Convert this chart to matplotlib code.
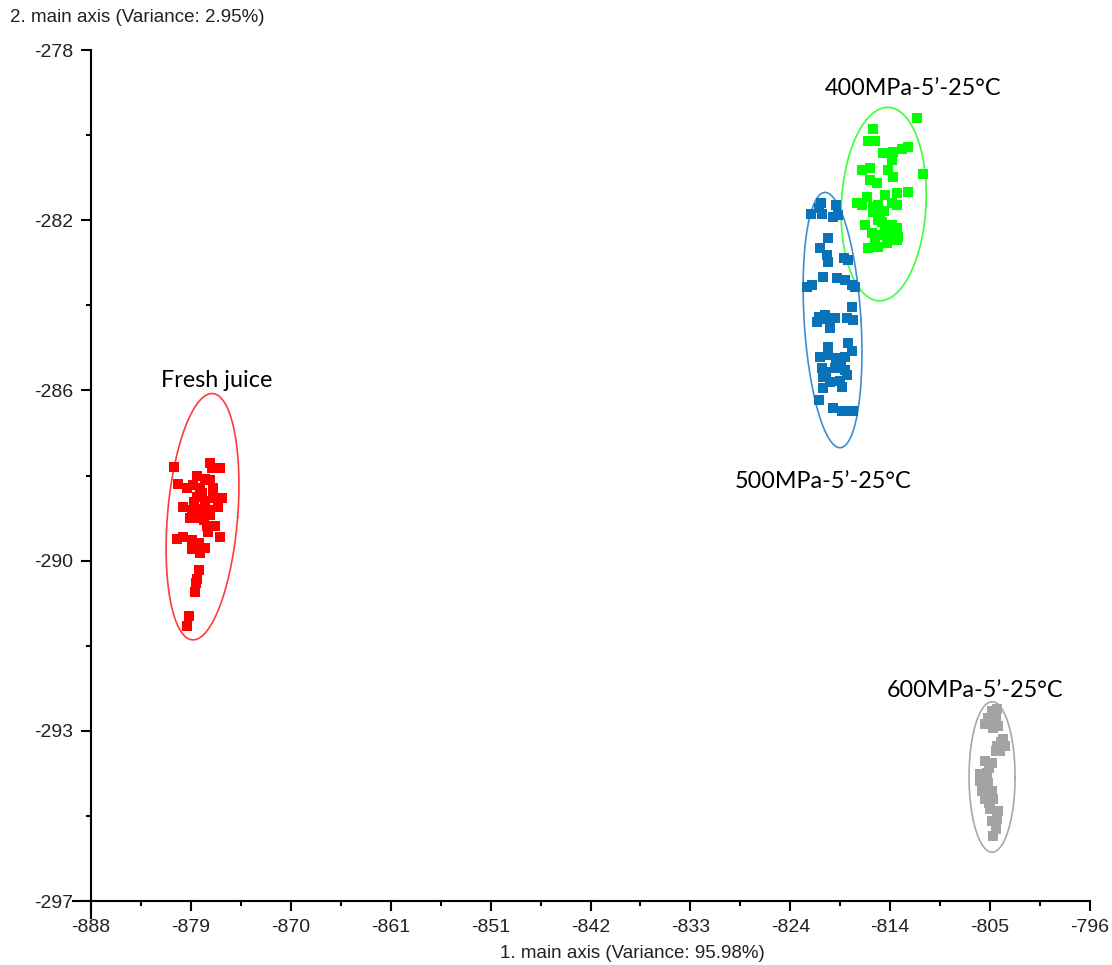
import numpy as np
import matplotlib
matplotlib.use("Agg")
import matplotlib.pyplot as plt
from matplotlib.lines import Line2D

# axis ticks (labels as printed by the software)
x_ticks = np.linspace(-888, -796, 11)
x_labels = ["-888", "-879", "-870", "-861", "-851", "-842", "-833", "-824", "-814", "-805", "-796"]
y_ticks = np.linspace(-278, -297, 6)
y_labels = ["-278", "-282", "-286", "-290", "-293", "-297"]

# Fresh juice
fresh_x = [-880.4, -877.0, -876.9, -876.1, -878.2, -877.5, -877.0, -880.0, -879.2, -878.6,
           -878.0, -876.8, -878.2, -877.5, -876.8, -875.9, -879.5, -878.7, -878.0, -877.0,
           -876.3, -878.9, -878.0, -877.0, -877.3, -876.6, -877.2, -876.1, -880.1, -879.5,
           -878.7, -878.1, -877.5, -878.7, -878.0, -878.1, -878.2, -878.3, -878.4, -879.0,
           -879.2, -877.8, -878.5, -877.6, -878.4]
fresh_y = [-287.30, -287.23, -287.34, -287.34, -287.50, -287.57, -287.61, -287.68, -287.79, -287.72,
           -287.79, -287.77, -287.99, -288.06, -288.01, -288.01, -288.21, -288.28, -288.24, -288.28,
           -288.21, -288.44, -288.46, -288.39, -288.62, -288.62, -288.77, -288.88, -288.91, -288.88,
           -288.95, -289.00, -289.11, -289.13, -289.22, -289.60, -289.80, -289.89, -290.11, -290.63,
           -290.87, -287.90, -288.10, -288.50, -289.05]

# 400MPa-5'-25°C
p400_x = [-811.9, -816.0, -816.4, -815.8, -815.1, -814.1, -812.8, -814.2, -817.0, -816.3,
          -814.6, -814.1, -811.4, -816.3, -815.6, -816.5, -817.5, -817.0, -814.9, -813.8,
          -812.8, -816.0, -815.5, -814.2, -813.8, -816.0, -815.3, -816.7, -815.2, -814.2,
          -813.8, -816.1, -815.2, -814.6, -813.7, -815.8, -814.4, -813.8, -816.4, -815.5,
          -814.7, -813.3, -815.5, -814.9, -815.0]
p400_y = [-279.52, -279.77, -280.03, -280.03, -280.30, -280.28, -280.17, -280.46, -280.68, -280.64,
          -280.68, -280.84, -280.77, -280.91, -280.97, -281.29, -281.42, -281.46, -281.24, -281.20,
          -281.17, -281.51, -281.46, -281.42, -281.46, -281.62, -281.69, -281.91, -281.84, -281.91,
          -281.98, -282.09, -282.13, -282.09, -282.18, -282.25, -282.25, -282.25, -282.43, -282.40,
          -282.31, -280.22, -281.80, -282.00, -281.60]

# 500MPa-5'-25°C
p500_x = [-820.8, -821.0, -821.7, -820.7, -819.4, -819.7, -819.2, -820.1, -820.9, -820.2,
          -820.1, -818.7, -818.3, -820.6, -819.3, -818.6, -817.9, -817.6, -822.1, -821.6,
          -817.9, -821.0, -820.4, -819.5, -818.4, -817.8, -819.9, -821.1, -820.1, -818.3,
          -817.9, -820.9, -820.1, -819.2, -818.6, -820.7, -819.5, -818.6, -820.6, -819.9,
          -819.0, -818.4, -820.6, -818.8, -821.0, -819.7, -818.8, -818.1, -817.8, -820.3,
          -819.4, -818.9, -820.4]
p500_y = [-281.42, -281.53, -281.67, -281.67, -281.46, -281.73, -281.69, -282.20, -282.43, -282.58,
          -282.74, -282.65, -282.69, -283.07, -283.10, -283.14, -283.25, -283.30, -283.30, -283.25,
          -283.74, -283.97, -283.92, -283.99, -283.99, -284.03, -284.21, -284.08, -284.64, -284.55,
          -284.71, -284.86, -284.82, -284.88, -284.86, -285.09, -285.09, -285.15, -285.31, -285.42,
          -285.38, -285.26, -285.55, -285.53, -285.82, -286.00, -286.05, -286.05, -286.05, -285.20,
          -284.98, -285.00, -284.00]

# 600MPa-5'-25°C
p600_x = [-805.0, -804.6, -805.4, -804.7, -805.7, -804.9, -804.5, -804.0, -803.8, -804.6,
          -804.7, -804.3, -805.7, -805.0, -806.1, -805.5, -806.1, -805.4, -805.9, -805.0,
          -805.7, -804.9, -805.2, -804.5, -804.6, -805.0, -804.7, -804.9, -805.3, -805.5,
          -805.3, -804.2]
p600_y = [-292.75, -292.71, -292.91, -292.93, -293.04, -293.13, -293.09, -293.38, -293.53, -293.53,
          -293.65, -293.65, -293.87, -293.91, -294.16, -294.14, -294.32, -294.36, -294.54, -294.54,
          -294.72, -294.72, -294.94, -294.99, -295.16, -295.21, -295.39, -295.55, -294.02, -294.45,
          -294.82, -293.45]

groups = ["Fresh juice", "400MPa-5\u2019-25\u00b0C", "500MPa-5\u2019-25\u00b0C", "600MPa-5\u2019-25\u00b0C"]
xs = [fresh_x, p400_x, p500_x, p600_x]
ys = [fresh_y, p400_y, p500_y, p600_y]
point_colors = ["#ff0000", "#00ff00", "#0873b9", "#a3a3a3"]
ring_colors = ["#ff3b3b", "#3cff3c", "#3b8fd0", "#a8a8a8"]

# ellipse: centre x, centre y, half width, half height, x shift of the top point
ellipses = [
    (-877.73, -288.42, 3.24, 2.75, 0.87),
    (-815.00, -281.44, 3.90, 2.16, 0.37),
    (-819.71, -284.03, 2.62, 2.85, -0.69),
    (-805.02, -294.23, 2.12, 1.68, 0.00),
]
label_pos = [(-876.4, -285.38), (-812.3, -278.85), (-820.6, -287.63), (-806.6, -292.30)]

fig = plt.figure(figsize=(11.12, 9.65), dpi=100)
ax = fig.add_axes([91 / 1112, 1 - 901 / 965, 999 / 1112, 851 / 965])

t = np.linspace(0, 2 * np.pi, 300)
for i in range(len(groups)):
    cx, cy, rx, ry, lean = ellipses[i]
    ax.plot(cx + rx * np.cos(t) + lean * np.sin(t), cy + ry * np.sin(t),
            color=ring_colors[i], lw=1.2, zorder=2)
    ax.scatter(xs[i], ys[i], marker="s", s=58, color=point_colors[i], linewidths=0, zorder=3)
    ax.text(label_pos[i][0], label_pos[i][1], groups[i], ha="center", va="center",
            fontsize=16.8, family="Lato", color="black")

ax.set_xlim(-888, -796)
ax.set_ylim(-297, -278)
ax.set_xticks(x_ticks)
ax.set_xticklabels(x_labels)
ax.set_yticks(y_ticks)
ax.set_yticklabels(y_labels)
ax.set_xticks((x_ticks[:-1] + x_ticks[1:]) / 2, minor=True)
ax.set_yticks((y_ticks[:-1] + y_ticks[1:]) / 2, minor=True)

for s in ["top", "right"]:
    ax.spines[s].set_visible(False)
for s in ["left", "bottom"]:
    ax.spines[s].set_linewidth(1.5)
ax.tick_params(which="major", length=7, width=1.5, labelsize=14, pad=6)
ax.tick_params(which="minor", length=3.5, width=1.5)
for lab in ax.get_xticklabels() + ax.get_yticklabels():
    lab.set_family("Liberation Sans")
    lab.set_color("#222222")

# corner extensions of the two axes
ax.add_line(Line2D([-0.018, 0], [0, 0], transform=ax.transAxes, color="black", lw=1.5, clip_on=False))
ax.add_line(Line2D([0, 0], [-0.02, 0], transform=ax.transAxes, color="black", lw=1.5, clip_on=False))

fig.text(10 / 1112, 1 - 18 / 965, "2. main axis (Variance: 2.95%)", ha="left", va="center",
         fontsize=13.5, family="Liberation Sans", color="#222222")
fig.text(632 / 1112, 1 - 954 / 965, "1. main axis (Variance: 95.98%)", ha="center", va="center",
         fontsize=13.5, family="Liberation Sans", color="#222222")

fig.savefig("out.png", dpi=100)
